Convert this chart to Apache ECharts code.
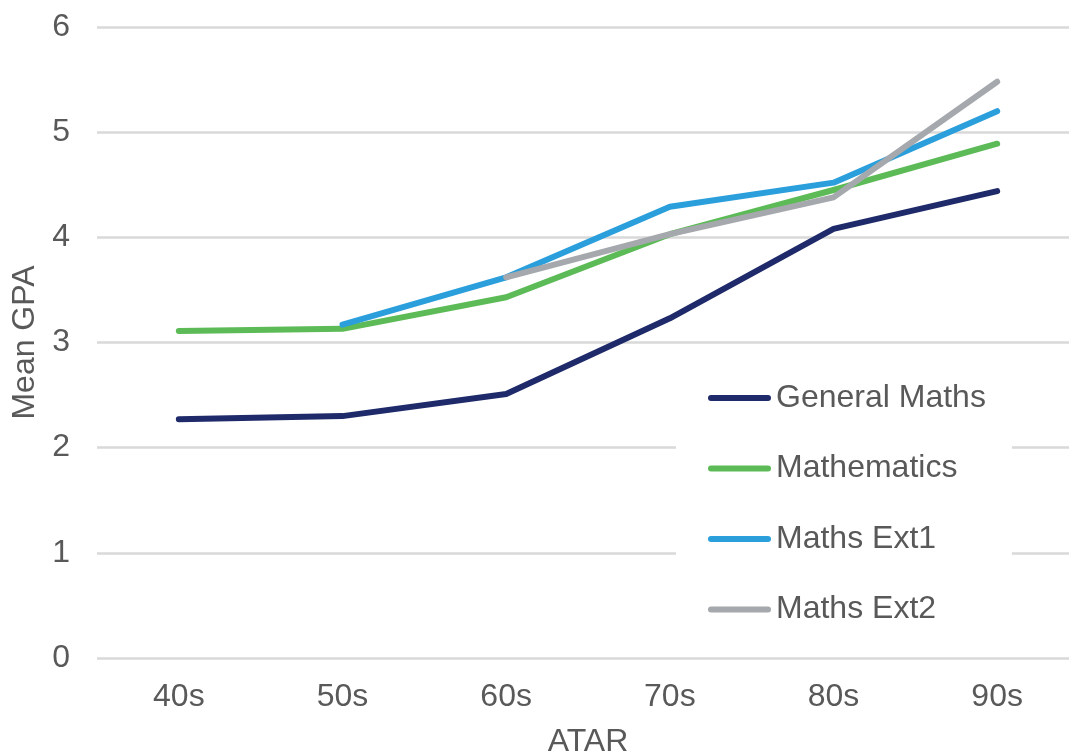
<!DOCTYPE html>
<html>
<head>
<meta charset="utf-8">
<script src="https://cdn.jsdelivr.net/npm/echarts@6/dist/echarts.min.js"></script>
<style>
html,body{margin:0;padding:0;background:#fff;overflow:hidden;}
#chart{width:1069px;height:753px;}
</style>
</head>
<body>
<div id="chart"></div>
<script>
const categories = ['40s', '50s', '60s', '70s', '80s', '90s'];
const generalMaths = [2.27, 2.30, 2.51, 3.23, 4.08, 4.44];
const mathematics = [3.11, 3.13, 3.43, 4.03, 4.45, 4.89];
const mathsExt1 = [null, 3.17, 3.62, 4.29, 4.52, 5.20];
const mathsExt2 = [null, null, 3.62, 4.03, 4.38, 5.48];
const seriesNames = ['General Maths', 'Mathematics', 'Maths Ext1', 'Maths Ext2'];
const seriesColors = ['#1F2A6A', '#5DBB57', '#2A9FDB', '#A5A8AC'];
const seriesData = [generalMaths, mathematics, mathsExt1, mathsExt2];

const FONT = 'Liberation Sans, Arial, sans-serif';
const TXT = '#595959';
const pill = 'path://M3,0 H60 A3,3 0 0 1 60,6 H3 A3,3 0 0 1 3,0 Z';

const chart = echarts.init(document.getElementById('chart'), null, {renderer: 'canvas'});
chart.setOption({
  animation: false,
  backgroundColor: '#fff',
  textStyle: {fontFamily: FONT},
  grid: {left: 97, top: 27, width: 982, bottom: 95, containLabel: false, outerBoundsMode: 'none'},
  legend: {
    orient: 'vertical',
    left: 676,
    top: 347,
    backgroundColor: '#fff',
    padding: [35, 26, 25, 32],
    itemWidth: 63,
    itemHeight: 6,
    itemGap: 38.5,
    icon: pill,
    textStyle: {fontFamily: FONT, fontSize: 32, color: TXT, lineHeight: 32},
    data: seriesNames
  },
  xAxis: {
    type: 'category',
    data: categories,
    boundaryGap: true,
    name: 'ATAR',
    nameLocation: 'middle',
    nameGap: 68,
    nameTextStyle: {fontFamily: FONT, fontSize: 32, color: TXT},
    axisLine: {show: false},
    axisTick: {show: false},
    axisLabel: {fontFamily: FONT, fontSize: 32, color: TXT, margin: 23}
  },
  yAxis: {
    type: 'value',
    min: 0,
    max: 6,
    interval: 1,
    name: 'Mean GPA',
    nameLocation: 'middle',
    nameGap: 56,
    nameTextStyle: {fontFamily: FONT, fontSize: 32, color: TXT},
    axisLine: {show: false},
    axisTick: {show: false},
    axisLabel: {fontFamily: FONT, fontSize: 32, color: TXT, margin: 27},
    splitLine: {lineStyle: {color: '#D9D9D9', width: 2.5}}
  },
  series: seriesNames.map((n, i) => ({
    name: n,
    type: 'line',
    data: seriesData[i],
    showSymbol: false,
    symbol: 'none',
    color: seriesColors[i],
    lineStyle: {color: seriesColors[i], width: 6, cap: 'round', join: 'round'},
    z: 2 + i
  }))
});
</script>
</body>
</html>
